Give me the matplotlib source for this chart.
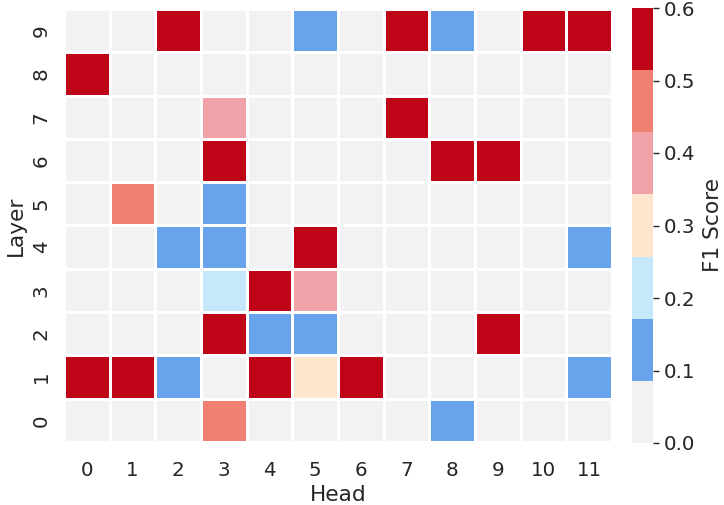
import numpy as np
import matplotlib
matplotlib.use("Agg")
import matplotlib.pyplot as plt
import seaborn as sns
from matplotlib.colors import ListedColormap

heads = list(range(12))
layers = list(range(10))

# F1 score per (layer, head); values
f1 = np.zeros((10, 12))
f1[9, [2, 7, 10, 11]] = 0.6
f1[9, [5, 8]] = 0.15
f1[8, 0] = 0.6
f1[7, 3] = 0.4
f1[7, 7] = 0.6
f1[6, [3, 8, 9]] = 0.6
f1[5, 1] = 0.47
f1[5, 3] = 0.15
f1[4, [2, 3, 11]] = 0.15
f1[4, 5] = 0.6
f1[3, 3] = 0.2
f1[3, 4] = 0.6
f1[3, 5] = 0.4
f1[2, [3, 9]] = 0.6
f1[2, [4, 5]] = 0.15
f1[1, [0, 1, 4, 6]] = 0.6
f1[1, [2, 11]] = 0.15
f1[1, 5] = 0.3
f1[0, 3] = 0.47
f1[0, 8] = 0.15

colors = ["#f2f2f2", "#68a4ec", "#c6e8fb", "#fde6cd", "#f0a2a8", "#f17f72", "#c00418"]
cbar_ticks = [0.0, 0.1, 0.2, 0.3, 0.4, 0.5, 0.6]

sns.set_theme(style="white", font_scale=1.3)
plt.rcParams["font.family"] = ["DejaVu Sans"]

fig = plt.figure(figsize=(7.24, 5.05), dpi=100)
ax = fig.add_axes([64 / 724, 63 / 505, 548 / 724, 433 / 505])
cax = fig.add_axes([632 / 724, 62 / 505, 21 / 724, 435 / 505])

sns.heatmap(f1, ax=ax, cbar_ax=cax, cmap=ListedColormap(colors), vmin=0, vmax=0.6,
            linewidths=1, linecolor="white", xticklabels=heads, yticklabels=layers,
            cbar_kws={"ticks": cbar_ticks})
ax.invert_yaxis()
ax.set_xlabel("Head", labelpad=3)
ax.set_ylabel("Layer")
ax.tick_params(axis="x", pad=8)
plt.setp(ax.get_yticklabels(), rotation=90, va="center")
plt.setp(ax.get_xticklabels(), rotation=0)
cax.tick_params(length=4, width=1)
cax.yaxis.set_major_formatter(matplotlib.ticker.FormatStrFormatter("%.1f"))
cax.set_ylabel("F1 Score", labelpad=6)
for sp in cax.spines.values():
    sp.set_visible(False)

fig.savefig("out.png", dpi=100)
